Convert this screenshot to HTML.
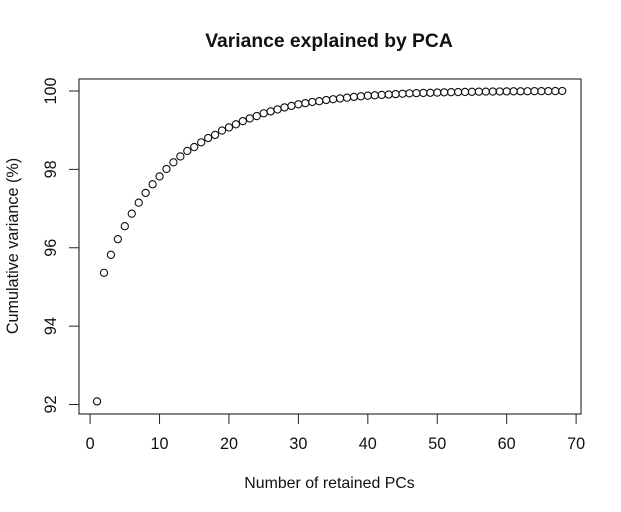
<!DOCTYPE html>
<html>
<head>
<meta charset="utf-8">
<title>Variance explained by PCA</title>
<style>
html,body{margin:0;padding:0;background:#fff;width:621px;height:512px;overflow:hidden}
svg{display:block}
text{font-family:"Liberation Sans",Arial,sans-serif;fill:#111}
</style>
</head>
<body>
<svg id="chart" width="621" height="512" viewBox="0 0 621 512">
<rect width="621" height="512" fill="#fff"/>
<text x="329" y="47" text-anchor="middle" font-size="19.3" font-weight="bold">Variance explained by PCA</text>
<text x="329.5" y="488" text-anchor="middle" font-size="15.9">Number of retained PCs</text>
<text transform="translate(18 246) rotate(-90)" text-anchor="middle" font-size="16.2">Cumulative variance (%)</text>
<rect x="79" y="79" width="502" height="335" fill="none" stroke="#222" stroke-width="1.1"/>
<g id="xaxis"></g>
<g id="yaxis"></g>
<g id="points"></g>
</svg>
<script>
const components = [1,2,3,4,5,6,7,8,9,10,11,12,13,14,15,16,17,18,19,20,21,22,23,24,25,26,27,28,29,30,31,32,33,34,35,36,37,38,39,40,41,42,43,44,45,46,47,48,49,50,51,52,53,54,55,56,57,58,59,60,61,62,63,64,65,66,67,68];
const cumulativeVariance = [92.08,95.36,95.82,96.22,96.55,96.87,97.15,97.40,97.62,97.82,98.01,98.18,98.33,98.47,98.57,98.69,98.80,98.88,98.99,99.07,99.15,99.23,99.30,99.36,99.43,99.48,99.53,99.58,99.62,99.66,99.69,99.72,99.74,99.77,99.79,99.81,99.83,99.85,99.865,99.88,99.89,99.90,99.91,99.92,99.93,99.94,99.945,99.95,99.955,99.96,99.965,99.97,99.973,99.976,99.979,99.982,99.984,99.986,99.988,99.99,99.992,99.993,99.994,99.995,99.996,99.997,99.998,100];
const xTicks = [0,10,20,30,40,50,60,70];
const yTicks = [92,94,96,98,100];

const SVG_NS = 'http://www.w3.org/2000/svg';
function xScale(v){ return 90.1 + v * 6.943; }
function yScale(v){ return 91 + (100 - v) * 39.19; }
function make(tag, attrs){
  const el = document.createElementNS(SVG_NS, tag);
  for (const k in attrs) el.setAttribute(k, attrs[k]);
  return el;
}
const xg = document.getElementById('xaxis');
const yg = document.getElementById('yaxis');
const pg = document.getElementById('points');

xTicks.forEach(function(t){
  const x = xScale(t);
  const tick = make('line', {x1:x, x2:x, y1:414, y2:424, stroke:'#222', 'stroke-width':1});
  
  
  xg.appendChild(tick);
  const label = make('text', {x:x, y:449, 'text-anchor':'middle', 'font-size':16.2});
  label.textContent = t;
  
  
  xg.appendChild(label);
});

yTicks.forEach(function(t){
  const y = yScale(t);
  const tick = make('line', {x1:69, x2:79, y1:y, y2:y, stroke:'#222', 'stroke-width':1});
  
  
  yg.appendChild(tick);
  const label = make('text', {transform:'translate(56 ' + y + ') rotate(-90)', 'text-anchor':'middle', 'font-size':16.2});
  label.textContent = t;
  
  
  yg.appendChild(label);
});

components.forEach(function(c, i){
  const pt = make('circle', {cx:xScale(c), cy:yScale(cumulativeVariance[i]), r:3.6, fill:'none', stroke:'#111', 'stroke-width':1.1});
  
  
  pg.appendChild(pt);
});
</script>
</body>
</html>
